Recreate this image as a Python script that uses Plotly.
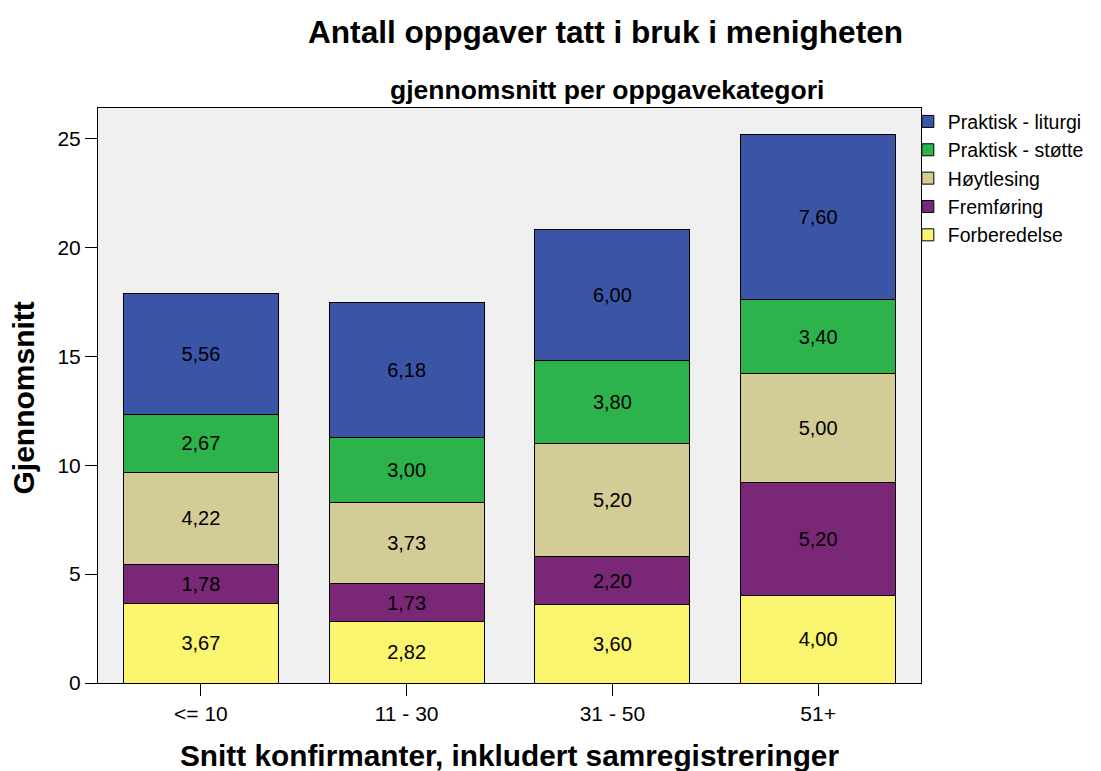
import plotly.graph_objects as go

categories = ["<= 10", "11 - 30", "31 - 50", "51+"]
series_names = ["Forberedelse", "Fremføring", "Høytlesing", "Praktisk - støtte", "Praktisk - liturgi"]
forberedelse = [3.67, 2.82, 3.60, 4.00]
fremforing = [1.78, 1.73, 2.20, 5.20]
hoytlesing = [4.22, 3.73, 5.20, 5.00]
praktisk_stotte = [2.67, 3.00, 3.80, 3.40]
praktisk_liturgi = [5.56, 6.18, 6.00, 7.60]
y_ticks = [0, 5, 10, 15, 20, 25]

series_values = [forberedelse, fremforing, hoytlesing, praktisk_stotte, praktisk_liturgi]
colors = ["#faf46e", "#7b2778", "#d3cc96", "#2db34b", "#3b55a6"]

FONT = "Liberation Sans, Arial, sans-serif"

fig = go.Figure()
for name, vals, col in zip(series_names, series_values, colors):
    fig.add_trace(go.Bar(
        x=categories, y=vals, name=name,
        marker=dict(color=col, line=dict(color="#000000", width=1)),
        text=[f"{v:.2f}".replace(".", ",") for v in vals],
        textposition="inside", insidetextanchor="middle", textangle=0,
        textfont=dict(family=FONT, size=20, color="#000000"),
        constraintext="none",
        hoverinfo="x+y+name",
    ))

# figure sized to fit inside the page's default 8px body margin
fig.update_layout(
    barmode="stack",
    bargap=0.247,
    width=1093, height=763,
    margin=dict(l=90, r=169, t=100, b=88),
    paper_bgcolor="#ffffff",
    plot_bgcolor="#f0f0f0",
    font=dict(family=FONT, size=21, color="#000000"),
    showlegend=True,
    legend=dict(
        traceorder="reversed",
        x=0.984, xanchor="left", y=1.010, yanchor="top",
        font=dict(family=FONT, size=19.5, color="#000000"),
        bgcolor="rgba(0,0,0,0)",
        itemwidth=30,
        tracegroupgap=0,
    ),
    xaxis=dict(
        showline=True, linecolor="#000000", linewidth=1, mirror=True,
        ticks="outside", ticklen=12, tickcolor="#000000",
        tickfont=dict(family=FONT, size=21),
        showgrid=False,
    ),
    yaxis=dict(
        range=[0, 26.4],
        tickvals=y_ticks,
        showline=True, linecolor="#000000", linewidth=1, mirror=True,
        ticks="outside", ticklen=12, tickcolor="#000000",
        tickfont=dict(family=FONT, size=21),
        showgrid=False, zeroline=False,
    ),
    annotations=[
        dict(text="<b>Antall oppgaver tatt i bruk i menigheten</b>", xref="paper", yref="paper",
             x=0.617, y=1.0, yshift=76, xanchor="center", yanchor="middle", showarrow=False,
             font=dict(family=FONT, size=31.6)),
        dict(text="<b>gjennomsnitt per oppgavekategori</b>", xref="paper", yref="paper",
             x=0.619, y=1.0, yshift=18, xanchor="center", yanchor="middle", showarrow=False,
             font=dict(family=FONT, size=26.5)),
        dict(text="<b>Snitt konfirmanter, inkludert samregistreringer</b>", xref="paper", yref="paper",
             x=0.5, y=0.0, yshift=-72, xanchor="center", yanchor="middle", showarrow=False,
             font=dict(family=FONT, size=29.8)),
        dict(text="<b>Gjennomsnitt</b>", xref="paper", yref="paper",
             x=0.0, xshift=-75, y=0.5, yshift=-3, xanchor="center", yanchor="middle", showarrow=False,
             textangle=-90, font=dict(family=FONT, size=30)),
    ],
)

fig.write_html("out.html")
